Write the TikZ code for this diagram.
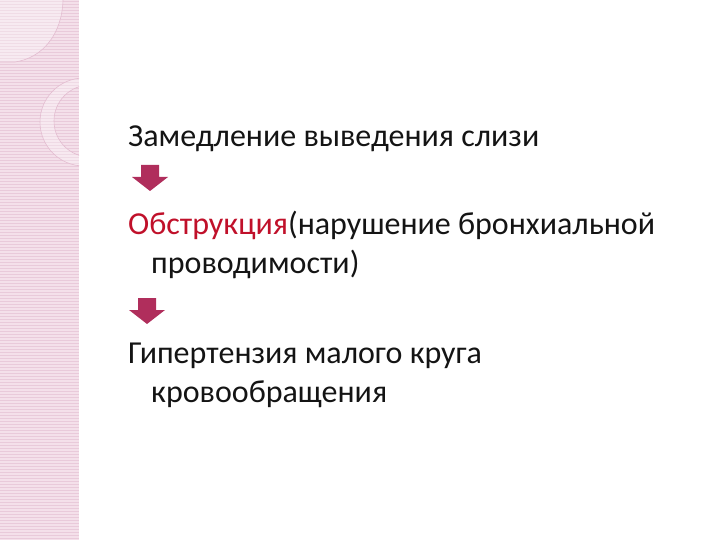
\documentclass[tikz,border=0pt]{standalone}
\usepackage{fontspec}
\setmainfont{Carlito}
\definecolor{bandpink}{HTML}{F4E0EA}
\definecolor{bandline}{HTML}{E9CADA}
\definecolor{ringpink}{HTML}{E3BCD0}
\definecolor{arrowred}{HTML}{B02E5C}
\definecolor{titlered}{HTML}{C0102A}
\begin{document}
\begin{tikzpicture}
[x=1pt,y=-1pt,
  linedecorate/.style={anchor=base west,inner sep=0pt,text=black!92,
    font=\fontsize{32}{39}\selectfont},%
  arrowdecorate/.style={fill=arrowred,draw=none}]
\useasboundingbox (0,0) rectangle (720,540);
%% pink band on the left
\fill[bandpink] (0,0) rectangle (79,540);
\foreach \y in {1,4,...,540} {
  \draw[bandline,line width=0.8pt] (0,\y) -- (79,\y);
}
\begin{scope}
\clip (0,0) rectangle (79,540);
\fill[white,opacity=0.35] (0,0) -- (63,0) .. controls (62,35) and (42,58) .. (15,62) -- (0,62) -- cycle;
\draw[ringpink,line width=0.6pt] (63,0) .. controls (62,35) and (42,58) .. (15,62) -- (0,62);
\fill[white,opacity=0.3,even odd rule] (84,122) circle (44) (90,121) circle (36);
\draw[ringpink,line width=0.6pt] (84,122) circle (44) (90,121) circle (36);
\end{scope}
%% text lines
\foreach \nodename/\x/\y/\txt in {l1/128/147/{Замедление выведения слизи},
  l2/128/234/{\textcolor{titlered}{Обструкция}(нарушение бронхиальной},
  l3/151/273/{проводимости)},
  l4/128/363/{Гипертензия малого круга},
  l5/151/402/{кровообращения}} {
  \node (\nodename) at (\x,\y) [linedecorate] {\txt};
}
%% block arrows
\foreach \x/\y in {150/165, 147/298} {
  \fill[arrowdecorate] (\x-9,\y) -- (\x+9,\y) -- (\x+9,\y+12) -- (\x+18,\y+12)
    -- (\x,\y+26) -- (\x-18,\y+12) -- (\x-9,\y+12) -- cycle;
}
\end{tikzpicture}
\end{document}
